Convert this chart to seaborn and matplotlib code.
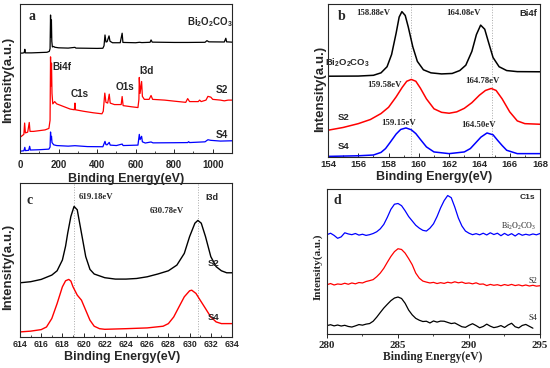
import numpy as np
import matplotlib
matplotlib.use("Agg")
import matplotlib.pyplot as plt
from matplotlib.ticker import MultipleLocator
import seaborn as sns

sns.set_style("ticks")
plt.rcParams['font.family'] = ['Liberation Sans', 'DejaVu Sans']

# ---- panel a: survey spectra (energy eV, intensity in plot units 0-100)
a_bi_ev = [0, 10, 22, 25, 28, 60, 100, 140, 152, 156, 158.5, 160, 163, 165, 168, 175, 180, 200, 250,
           285, 290, 350, 400, 430, 436, 441, 446, 452, 462, 467, 480, 520, 530, 534, 600, 620, 632,
           675, 680, 686, 800, 870, 960, 970, 980, 1060, 1068, 1072, 1100]
a_bi_int = [67.2, 67.0, 67.3, 69.6, 67.2, 67.2, 67.4, 67.6, 68.2, 70, 92.6, 78, 89.3, 75, 71.2, 71.5, 71.0,
            70.6, 70.4, 70.9, 70.4, 70.3, 70.2, 70.3, 72, 79.2, 74.5, 74.7, 78.6, 75, 74.0, 74.0, 80.4,
            74.2, 74.0, 74.3, 74.1, 74.3, 75.9, 74.4, 74.2, 74.2, 74.3, 75.4, 74.6, 74.5, 77.0, 74.6, 74.4]
a_s2_ev = [0, 10, 20, 24, 28, 40, 48, 52, 70, 100, 130, 150, 156, 158.5, 160.5, 163.5, 166, 170, 180, 190,
           220, 260, 282, 285, 288, 330, 380, 425, 432, 440, 446, 455, 463, 468, 490, 525, 530, 535, 580,
           612, 617, 619, 623, 631, 635, 645, 670, 680, 688, 750, 800, 860, 870, 880, 925, 932, 940, 965,
           975, 990, 1000, 1040, 1060, 1080, 1100]
a_s2_int = [10.5, 11.5, 12.5, 20.1, 13.5, 14, 20.5, 14.5, 14.5, 15, 15.5, 16.5, 22, 64.5, 45, 60.3, 40, 33,
            34.5, 33, 31.5, 29.5, 29, 33.5, 29, 28, 27, 26.3, 28, 40.2, 34, 33.5, 39.5, 33.5, 32.5, 32.5,
            37.9, 31.8, 31, 30.5, 36, 50.7, 40, 48, 38, 36, 36, 38.6, 36, 35.5, 34.8, 34, 36.5, 34.5, 34.5,
            35.5, 34.5, 35.5, 38, 37.5, 36, 35.5, 35, 35.5, 35.5]
a_s4_ev = [0, 20, 25, 28, 45, 50, 54, 100, 150, 156, 158.5, 160.5, 163.5, 166, 175, 190, 250, 285, 350,
           430, 441, 446, 452, 463, 468, 500, 530, 535, 612, 619, 623, 631, 635, 650, 680, 690, 800, 870,
           875, 880, 960, 975, 990, 1040, 1100]
a_s4_int = [1.2, 1.5, 3.8, 1.6, 1.8, 4.5, 2.0, 2.2, 2.6, 4, 14.1, 9, 11.2, 7, 5.5, 5.0, 4.6, 4.9, 4.3, 4.2,
            7.8, 5.6, 5.5, 7.1, 5.3, 5.0, 6.0, 5.0, 5.3, 12.5, 9, 11.2, 7.5, 6.7, 7.4, 6.8, 6.9, 7.0, 7.6,
            7.0, 7.5, 8.9, 8.5, 8.0, 8.2]

# ---- panel b: Bi4f
b_bi_ev = [154, 156, 157, 157.5, 157.9, 158.2, 158.5, 158.7, 158.88, 159.1, 159.3, 159.6, 159.9, 160.3,
           160.8, 161.5, 162.2, 162.7, 163.1, 163.5, 163.8, 164.08, 164.35, 164.6, 164.9, 165.3, 165.8,
           166.5, 168]
b_bi_int = [52.8, 52.9, 53.4, 55, 59, 67, 81, 91.5, 95.0, 92.5, 85, 72, 62.5, 57, 55, 54.3, 54.6, 56.5, 60,
            69, 80, 86.2, 83.5, 75, 65, 59, 56.5, 55.8, 55.7]
b_s2_ev = [154, 155, 156, 156.8, 157.5, 158, 158.5, 158.9, 159.2, 159.5, 159.8, 160.1, 160.5, 161, 161.5,
           162, 162.5, 163, 163.5, 164, 164.4, 164.78, 165.1, 165.5, 166, 166.5, 167, 168]
b_s2_int = [17.5, 19.3, 21.8, 24.5, 28.4, 32.5, 39.3, 45.5, 49.5, 50.7, 49.5, 45, 38, 31.5, 29.2, 28.6,
            29.5, 31.8, 35.5, 40.4, 43.5, 44.8, 43.5, 38, 29.5, 23.6, 21.8, 21.4]
b_s4_ev = [154, 156, 157, 157.5, 157.8, 158.1, 158.5, 158.8, 159.15, 159.5, 159.8, 160.1, 160.5, 161,
           162, 163, 163.4, 163.7, 164.1, 164.5, 164.9, 165.2, 165.5, 165.8, 166.5, 168]
b_s4_int = [0.4, 0.8, 1.3, 3.0, 5.5, 9.5, 15.0, 18.0, 19.0, 17.8, 15.3, 11.5, 6.6, 3.3, 2.2, 3.3, 5.5, 8.7,
            13.0, 15.7, 14.5, 10.9, 7.5, 4.4, 2.2, 2.2]

# ---- panel c: I3d
c_s2_ev = [614, 615, 616, 617, 617.5, 618, 618.3, 618.5, 618.8, 619.1, 619.4, 619.8, 620.2, 620.6, 621,
           622, 623, 624, 625, 626, 627, 628, 628.8, 629.5, 630, 630.5, 630.78, 631.1, 631.5, 632,
           632.5, 633, 633.5, 634]
c_s2_int = [35.2, 35.9, 37.4, 40.2, 43, 50, 59, 67.4, 78.3, 84.8, 82.6, 67.4, 52.2, 43.9, 40.9, 38.5,
            37.6, 37.6, 38, 39.1, 40.9, 43, 46.7, 54.3, 65.2, 73.9, 75.7, 73.9, 65.2, 52.2, 45.7, 43,
            41.7, 41.7]
c_s4_ev = [614, 615, 616, 616.5, 617, 617.5, 618, 618.3, 618.6, 618.8, 619, 619.4, 619.8, 620.2, 620.6,
           621, 621.5, 622, 624, 626, 627.5, 628, 628.5, 629, 629.5, 630, 630.2, 630.6, 631, 631.5,
           632, 632.5, 633, 634]
c_s4_int = [3.3, 3.8, 4.8, 6.5, 12, 21.7, 32.6, 36.5, 37.4, 36.3, 32.6, 27.2, 23.9, 17.4, 10.9, 7, 5.4,
            5.0, 5.4, 5.9, 7, 8.7, 13, 19.6, 26.1, 30, 30.4, 28.3, 23.9, 18.5, 13, 9.8, 8.7, 8.7]

# ---- panel d: C1s, sampled every 0.25 eV from 280 eV
d_bi_int = [68.5, 69.5, 68, 66, 67, 69.8, 69, 68.5, 69.3, 68.2, 68.8, 68, 68.5, 69.3, 70.5, 72.5, 75.6,
            80.5, 86, 89.5, 90, 88.5, 85, 81, 78, 75, 73, 71.5, 71, 73, 76, 81, 87, 92, 95.5, 94, 87.5,
            80, 74.5, 71, 69.5, 68.5, 69.2, 68.4, 69.5, 68.3, 69.8, 68.6, 69.5, 67.8, 69.4, 68, 69.2,
            67.6, 69.3, 68.1, 68.8, 68.2, 69, 68.4, 69.3]
d_s2_int = [34.0, 34.8, 33.8, 34.5, 34.2, 35, 34.3, 35.2, 34.6, 35.5, 35.2, 36.2, 36.8, 37.5, 39.5, 42,
            45.3, 49.5, 53.5, 56.8, 58.8, 58.3, 55.8, 52, 47.8, 42, 38.5, 36.5, 35.8, 35.2, 35.6, 34.8,
            35.4, 34.9, 35.7, 35.2, 36, 35.3, 35.8, 34.9, 35.2, 34.6, 35.3, 34.3, 34.5, 33.4, 34.2, 33.6,
            34.0, 33.3, 34.1, 33.5, 34.2, 33.4, 33.9, 33.2, 33.8, 33.1, 33.6, 33.0, 33.3]
d_s4_int = [5.8, 6.4, 5.6, 6.2, 5.5, 6.0, 5.2, 4.8, 5.6, 6.5, 6.1, 6.8, 7.2, 8.8, 11.6, 14.8, 17.9, 20.5,
            23, 24.8, 25.5, 24.5, 21.2, 16.5, 13.2, 10.8, 9.5, 8.6, 8.8, 7.6, 9.0, 8.2, 8.9, 8.8, 8.0,
            7.2, 7.6, 6.3, 5.0, 4.6, 6.0, 7.1, 5.8, 4.3, 5.2, 6.8, 5.4, 4.4, 4.9, 5.8, 4.5, 6.2, 7.4,
            5.0, 4.2, 5.9, 6.6, 5.3, 4.0]
d_step = 0.25

b_guides = [159.5, 164.8]
c_guides = [619.1, 630.75]

SANS = ['Liberation Sans', 'DejaVu Sans']
SERIF = ['Liberation Serif', 'DejaVu Serif']
BI2 = r'Bi$_\mathregular{2}$O$_\mathregular{2}$CO$_\mathregular{3}$'

W, H = 550, 368
fig = plt.figure(figsize=(5.5, 3.68), dpi=100)


def px_axes(x0, y0, x1, y1):
    return fig.add_axes([x0 / W, 1 - y1 / H, (x1 - x0) / W, (y1 - y0) / H])


def txt(px, py, s, size=7, serif=False, bold=True, **kw):
    fig.text(px / W, 1 - py / H, s, fontsize=size, family=SERIF if serif else SANS,
             fontweight='bold' if bold else 'normal', ha=kw.pop('ha', 'center'),
             va=kw.pop('va', 'center'), **kw)


def line(ax, x, y, color, lw):
    sns.lineplot(x=x, y=y, ax=ax, color=color, lw=lw, sort=False, estimator=None)


def frame(ax, xlim, major, minor, size, serif=False, direction='in', pad=2):
    ax.set_xlim(*xlim)
    ax.set_ylim(0, 100)
    ax.set_yticks([])
    ax.xaxis.set_major_locator(MultipleLocator(major))
    ax.xaxis.set_minor_locator(MultipleLocator(minor))
    ax.tick_params(axis='x', which='major', direction=direction, length=3, width=0.7,
                   labelsize=size, pad=pad)
    ax.tick_params(axis='x', which='minor', direction=direction, length=1.5, width=0.6)
    for lab in ax.get_xticklabels():
        lab.set_fontweight('bold')
        lab.set_family(SERIF if serif else SANS)
    for s in ax.spines.values():
        s.set_linewidth(0.8)
    ax.set_xlabel('')
    ax.set_ylabel('')


# panel a
ax = px_axes(20, 4, 232, 153)
line(ax, a_bi_ev, a_bi_int, 'black', 0.9)
line(ax, a_s2_ev, a_s2_int, 'red', 0.9)
line(ax, a_s4_ev, a_s4_int, 'blue', 0.9)
frame(ax, (0, 1100), 200, 100, 7, pad=5)
txt(126, 179, 'Binding Energy(eV)', 9)
txt(8, 80, 'Intensity(a.u.)', 9.5, rotation=90)
txt(32, 17, 'a', 10, serif=True)
txt(210, 22, BI2, 7)
txt(62, 67, 'Bi4f', 7.2)
txt(80, 94, 'C1s', 7.2)
txt(125, 87, 'O1s', 7.2)
txt(147, 71, 'I3d', 7.2)
txt(222, 90, 'S2', 7.2)
txt(222, 135, 'S4', 7.2)

# panel b
ax = px_axes(328, 4, 540, 157)
for g in b_guides:
    ax.axvline(g, color='#aaaaaa', ls=':', lw=0.7)
line(ax, b_bi_ev, b_bi_int, 'black', 1.1)
line(ax, b_s2_ev, b_s2_int, 'red', 1.1)
line(ax, b_s4_ev, b_s4_int, 'blue', 1.1)
frame(ax, (154, 168), 2, 1, 6.8)
txt(434, 177, 'Binding Energy(eV)', 9)
txt(320, 89, 'Intensity(a.u.)', 9.5, rotation=90)
txt(342, 17, 'b', 10, serif=True)
txt(373, 13, '158.88eV', 6.3, serif=True)
txt(463, 13, '164.08eV', 6.3, serif=True)
txt(528, 13, 'Bi4f', 6.8)
txt(347, 63, BI2, 6.8)
txt(384, 85, '159.58eV', 6.3, serif=True)
txt(482, 81, '164.78eV', 6.3, serif=True)
txt(344, 118, 'S2', 6.8)
txt(399, 123, '159.15eV', 6.3, serif=True)
txt(479, 125, '164.50eV', 6.3, serif=True)
txt(343, 147, 'S4', 6.8)

# panel c
ax = px_axes(20, 183, 232, 337)
for g in c_guides:
    ax.axvline(g, color='#aaaaaa', ls=':', lw=0.7)
line(ax, c_s2_ev, c_s2_int, 'black', 1.0)
line(ax, c_s4_ev, c_s4_int, 'red', 1.0)
frame(ax, (614, 634), 2, 1, 6.3)
txt(122, 357, 'Binding Energy(eV)', 9)
txt(8, 267, 'Intensity(a.u.)', 9.5, rotation=90)
txt(30, 201, 'c', 10, serif=True)
txt(96, 197, '619.18eV', 6.3, serif=True)
txt(167, 211, '630.78eV', 6.3, serif=True)
txt(212, 198, 'I3d', 6.5)
txt(214, 263, 'S2', 6.8)
txt(214, 317, 'S4', 6.8)

# panel d
ax = px_axes(327, 189, 540, 334)
for vals, col in [(d_bi_int, 'blue'), (d_s2_int, 'red'), (d_s4_int, 'black')]:
    ev = 280 + d_step * np.arange(len(vals))
    line(ax, ev, vals, col, 0.9)
frame(ax, (280, 295), 5, 2.5, 7.8, serif=True, direction='out', pad=2)
txt(433, 357, 'Binding Energy(eV)', 8.4, serif=True)
txt(318, 267, 'Intensity(a.u.)', 8, serif=True, rotation=90)
txt(337, 201, 'd', 10, serif=True)
txt(527, 198, 'C1s', 6)
txt(519, 226, BI2, 5.8, serif=True, bold=False)
txt(533, 281, 'S2', 6, serif=True, bold=False)
txt(533, 318, 'S4', 6, serif=True, bold=False)

fig.savefig('out.png', dpi=100)
